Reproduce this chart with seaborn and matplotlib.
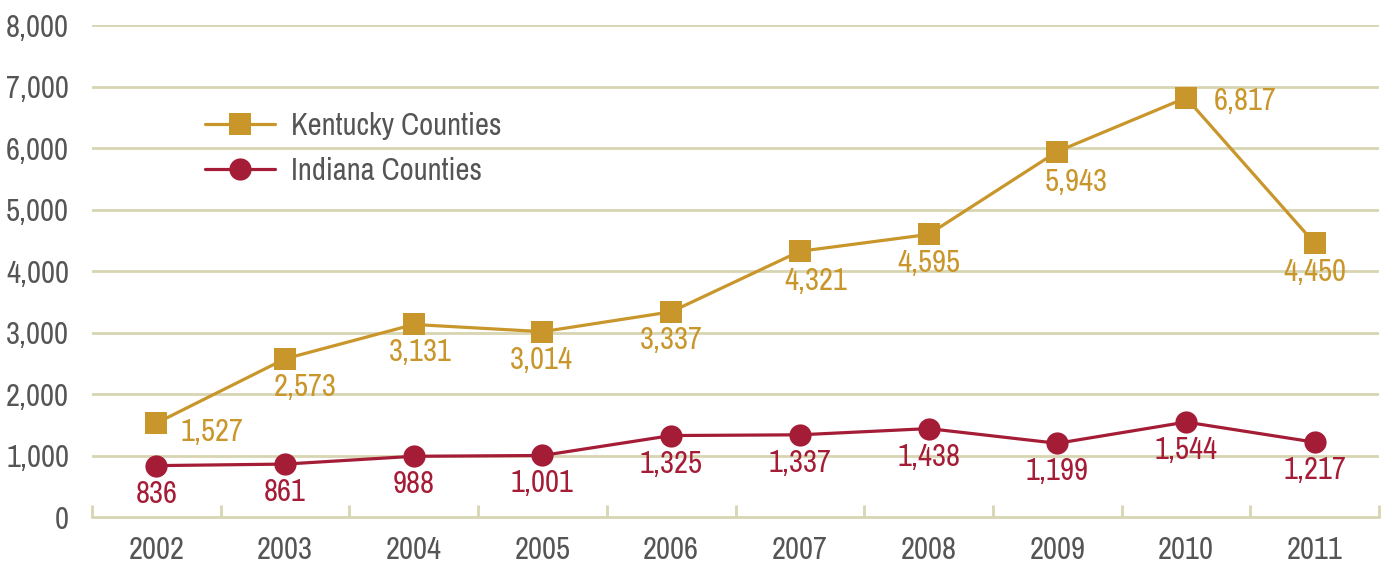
import numpy as np
import pandas as pd
import matplotlib
matplotlib.use("Agg")
import matplotlib.pyplot as plt
from matplotlib import font_manager
import seaborn as sns

# Data
years = [2002, 2003, 2004, 2005, 2006, 2007, 2008, 2009, 2010, 2011]
kentucky = [1527, 2573, 3131, 3014, 3337, 4321, 4595, 5943, 6817, 4450]
indiana = [836, 861, 988, 1001, 1325, 1337, 1438, 1199, 1544, 1217]
series_names = ["Kentucky Counties", "Indiana Counties"]

GOLD = "#C9962B"
RED = "#A51C36"
GRID = "#D8D5B3"
TEXT = "#555555"

df = pd.concat(
    [
        pd.DataFrame({"year": years, "value": kentucky, "series": series_names[0]}),
        pd.DataFrame({"year": years, "value": indiana, "series": series_names[1]}),
    ],
    ignore_index=True,
)

sns.set_style("white")

# the reference uses a narrow typeface
names = {f.name for f in font_manager.fontManager.ttflist}
if "Archivo Narrow" in names:
    plt.rcParams["font.family"] = ["Archivo Narrow", "DejaVu Sans"]
    FS = 22
else:
    plt.rcParams["font.family"] = ["Roboto", "DejaVu Sans"]
    FS = 18

fig = plt.figure(figsize=(13.86, 5.62), dpi=100)
ax = fig.add_axes([0.0664, 0.080, 0.9286, 0.8755])

# horizontal gridlines
for v in range(1000, 8001, 1000):
    ax.axhline(v, color=GRID, lw=2, zorder=0)

sns.lineplot(
    data=df,
    x="year",
    y="value",
    hue="series",
    style="series",
    palette={series_names[0]: GOLD, series_names[1]: RED},
    markers={series_names[0]: "s", series_names[1]: "o"},
    dashes=False,
    linewidth=2.3,
    markersize=16,
    markeredgewidth=0,
    ax=ax,
    zorder=3,
)

# data labels (offsets in pixels)
ky_off = [(56, -9), (20, -28), (7, -28), (-1, -28), (0, -28), (16, -30),
          (0, -29), (19, -30), (59, -3), (0, -29)]
for x, y, off in zip(years, kentucky, ky_off):
    ax.annotate(f"{y:,}", (x, y), xytext=off, textcoords="offset pixels",
                ha="center", va="center", color=GOLD, fontsize=FS)
for x, y in zip(years, indiana):
    ax.annotate(f"{y:,}", (x, y), xytext=(0, -28), textcoords="offset pixels",
                ha="center", va="center", color=RED, fontsize=FS)

ax.set_xlim(2001.5, 2011.5)
ax.set_ylim(0, 8000)
ax.set_xticks(years)
ax.set_xticklabels([str(y) for y in years])
ax.set_xticks(np.arange(2001.5, 2012, 1), minor=True)
ax.set_yticks(range(0, 8001, 1000))
ax.set_yticklabels([f"{v:,}" for v in range(0, 8001, 1000)])
ax.tick_params(axis="x", which="major", bottom=False, pad=10, labelsize=FS, labelcolor=TEXT)
ax.tick_params(axis="x", which="minor", bottom=True, direction="in", length=9,
               width=2, color=GRID)
ax.tick_params(axis="y", left=False, pad=13, labelsize=FS, labelcolor=TEXT)
ax.set_xlabel("")
ax.set_ylabel("")

for s in ["top", "right", "left"]:
    ax.spines[s].set_visible(False)
ax.spines["bottom"].set_color(GRID)
ax.spines["bottom"].set_linewidth(2)

leg = ax.legend(
    loc="center left",
    bbox_to_anchor=(0.0878, 0.749),
    frameon=False,
    fontsize=FS,
    borderpad=0,
    borderaxespad=0,
    handlelength=2.3,
    labelspacing=0.55,
    handletextpad=0.5,
)
for t in leg.get_texts():
    t.set_color(TEXT)

fig.savefig("out.png", dpi=100)
